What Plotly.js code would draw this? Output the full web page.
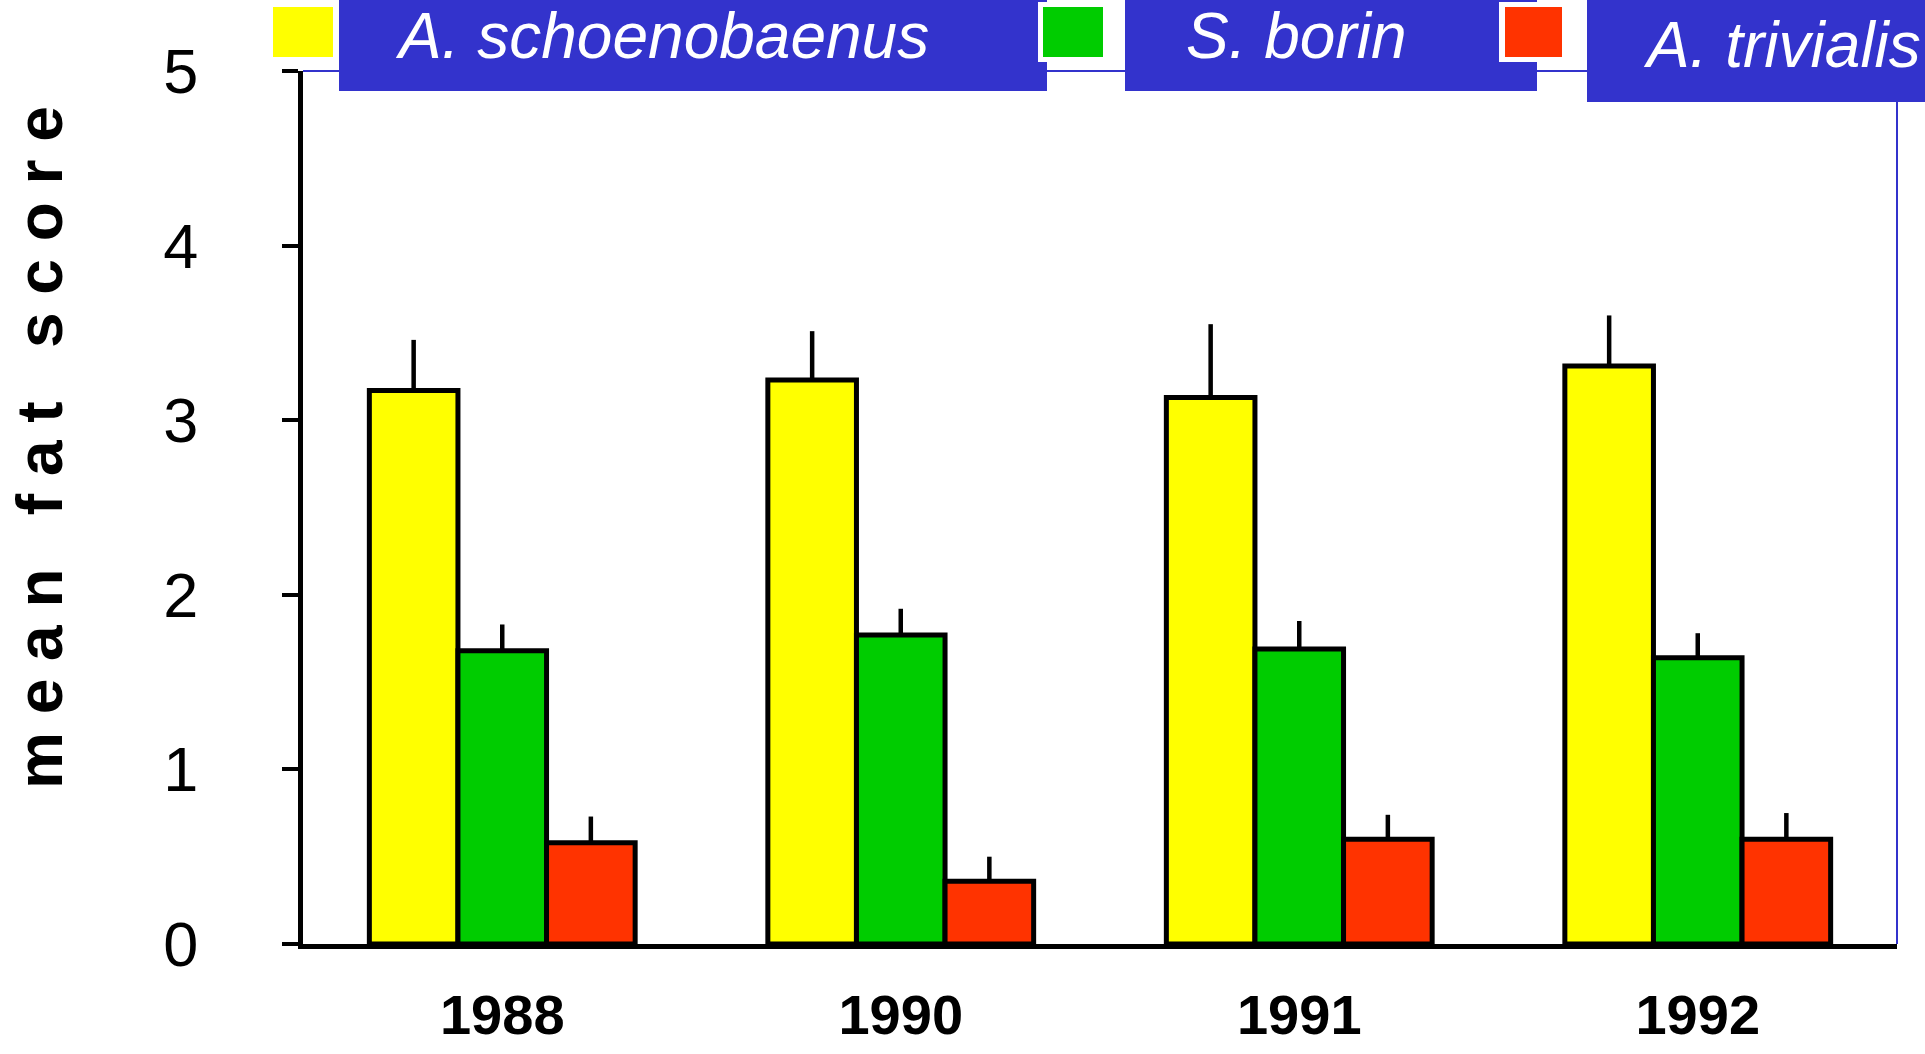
<!DOCTYPE html>
<html>
<head>
<meta charset="utf-8">
<script src="https://cdn.plot.ly/plotly-3.0.1.min.js"></script>
<style>
  html, body { margin: 0; padding: 0; background: #ffffff; }
  #chart { width: 1925px; height: 1054px; }
</style>
</head>
<body>
<div id="chart"></div>
<script>
// ---- data ----
const years = ['1988', '1990', '1991', '1992'];
const seriesNames = ['A. schoenobaenus', 'S. borin', 'A. trivialis'];
const schoenobaenus = [3.17, 3.23, 3.13, 3.31];
const schoenobaenusErr = [0.29, 0.28, 0.42, 0.29];
const borin = [1.68, 1.77, 1.69, 1.64];
const borinErr = [0.15, 0.15, 0.16, 0.14];
const trivialis = [0.58, 0.36, 0.60, 0.60];
const trivialisErr = [0.15, 0.14, 0.14, 0.15];
const yTicks = [0, 1, 2, 3, 4, 5];
const yTitle = 'mean fat score';

// ---- layout geometry (pixels) ----
const W = 1925, H = 1054;
const ML = 303, MR = 28, MT = 71, MB = 110;
const PW = W - ML - MR, PH = H - MT - MB;
const px2x = px => (px - ML) / PW;
const px2y = py => (H - MB - py) / PH;

const colors = ['#FFFF00', '#00CC00', '#FF3300'];
const blue = '#3333CC';
const font = 'Liberation Sans, Arial, Helvetica, sans-serif';

function barTrace(name, y, err, color) {
  return {
    type: 'bar', name: name, x: years, y: y,
    marker: { color: color, line: { color: '#000000', width: 5 } },
    error_y: { type: 'data', symmetric: false, array: err, arrayminus: err.map(() => 0),
               color: '#000000', thickness: 4.5, width: 0 },
    hoverinfo: 'x+y+name'
  };
}

const data = [
  barTrace(seriesNames[0], schoenobaenus, schoenobaenusErr, colors[0]),
  barTrace(seriesNames[1], borin, borinErr, colors[1]),
  barTrace(seriesNames[2], trivialis, trivialisErr, colors[2])
];

// custom legend: blue label boxes, white frames, colour squares
const boxes = [[339, 1047, 0, 91], [1125, 1537, 0, 91], [1587, 1940, 0, 102]];
const frames = [null, [1038, 1123, 2, 62], [1499, 1567, 2, 62]];
const squares = [[273, 333, 7, 57], [1043, 1103, 7, 57], [1505, 1562, 7, 57]];
const textPos = [[393, 36], [1184, 36], [1641, 45]];

const shapes = [
  // thin blue frame on top and right of plot area
  { type: 'line', xref: 'paper', yref: 'paper', x0: 0, x1: 1, y0: 1, y1: 1, line: { color: blue, width: 2 }, layer: 'above' },
  { type: 'line', xref: 'paper', yref: 'paper', x0: 1, x1: 1, y0: 0, y1: 1, line: { color: blue, width: 2 }, layer: 'above' }
];
boxes.forEach(b => shapes.push({ type: 'rect', xref: 'paper', yref: 'paper',
  x0: px2x(b[0]), x1: px2x(b[1]), y0: px2y(b[3]), y1: px2y(b[2]),
  fillcolor: blue, line: { width: 0 }, layer: 'above' }));
frames.forEach(f => { if (f) shapes.push({ type: 'rect', xref: 'paper', yref: 'paper',
  x0: px2x(f[0]), x1: px2x(f[1]), y0: px2y(f[3]), y1: px2y(f[2]),
  fillcolor: '#FFFFFF', line: { width: 0 }, layer: 'above' }); });
squares.forEach((s, i) => shapes.push({ type: 'rect', xref: 'paper', yref: 'paper',
  x0: px2x(s[0]), x1: px2x(s[1]), y0: px2y(s[3]), y1: px2y(s[2]),
  fillcolor: colors[i], line: { width: 0 }, layer: 'above' }));

const annotations = seriesNames.map((n, i) => ({
  xref: 'paper', yref: 'paper', x: px2x(textPos[i][0]), y: px2y(textPos[i][1]),
  xanchor: 'left', yanchor: 'middle', showarrow: false,
  text: '<i>' + n + '</i>', font: { family: font, size: 64, color: '#FFFFFF' }
}));

// letter-spaced y-axis title
const spaced = yTitle.split(' ').map(w => w.split('').join('\u00A0')).join('\u00A0\u00A0\u00A0');
annotations.push({
  xref: 'paper', yref: 'paper', x: px2x(40), y: px2y(448), xanchor: 'center', yanchor: 'middle',
  showarrow: false, textangle: -90, text: '<b>' + spaced + '</b>',
  font: { family: font, size: 64, color: '#000000' }
});

const layout = {
  width: W, height: H,
  margin: { l: ML, r: MR, t: MT, b: MB, pad: 0 },
  paper_bgcolor: '#FFFFFF', plot_bgcolor: '#FFFFFF',
  showlegend: false,
  barmode: 'group', bargap: 0.333, bargroupgap: 0,
  xaxis: {
    type: 'category', showgrid: false, zeroline: false,
    showline: true, linecolor: '#000000', linewidth: 5,
    ticks: '', ticklabelstandoff: 18,
    tickfont: { family: font, size: 56, color: '#000000', weight: 'bold' }
  },
  yaxis: {
    range: [0, 5], tickvals: yTicks, ticktext: yTicks.map(String),
    showgrid: false, zeroline: false,
    showline: true, linecolor: '#000000', linewidth: 5,
    ticks: 'outside', ticklen: 16, tickwidth: 4, tickcolor: '#000000',
    ticklabelstandoff: 71,
    tickfont: { family: font, size: 63, color: '#000000' }
  },
  shapes: shapes,
  annotations: annotations
};

Plotly.newPlot('chart', data, layout, { displayModeBar: false, staticPlot: true });
</script>
</body>
</html>
